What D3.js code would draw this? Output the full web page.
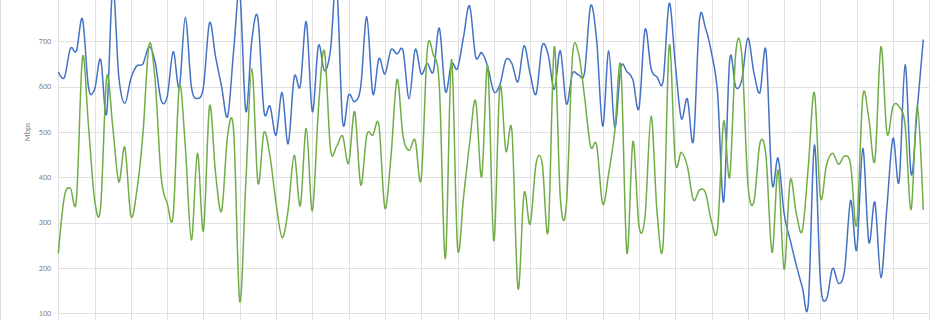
<!DOCTYPE html>
<html>
<head>
<meta charset="utf-8">
<script src="https://cdn.jsdelivr.net/npm/d3@7"></script>
<style>
  body { margin: 0; background: #fff; }
  svg { display: block; }
  .grid line { stroke: #e0e0e0; stroke-width: 1; }
  .axis text { font-family: Calibri, "Liberation Sans", sans-serif; font-size: 8px; fill: #7f7f7f; }
  .line { fill: none; stroke-width: 1.5; stroke-linejoin: round; }
</style>
</head>
<body>
<svg width="950" height="320"></svg>
<script>
// 10-minute samples over one day (144 per series), vertical grid every hour
var slots = 144,
    hourTicks = d3.range(0, 25).map(function(h) { return h * 6; }),
    yTicks = [100, 200, 300, 400, 500, 600, 700];

var blue = [633, 620, 684, 679, 749, 598, 594, 660, 541, 820,
  622, 563, 618, 646, 650, 688, 655, 570, 578, 677,
  598, 753, 600, 574, 600, 741, 666, 600, 534, 681,
  810, 546, 703, 751, 546, 557, 493, 587, 474, 621,
  601, 743, 545, 690, 635, 681, 830, 523, 582, 567,
  600, 754, 584, 662, 628, 681, 672, 679, 573, 682,
  628, 651, 633, 729, 589, 651, 640, 710, 778, 666,
  675, 644, 589, 604, 659, 651, 611, 690, 629, 584,
  690, 670, 594, 679, 562, 629, 626, 631, 778, 703,
  513, 679, 510, 642, 633, 615, 552, 726, 640, 621,
  613, 784, 651, 530, 573, 481, 747, 729, 674, 585,
  346, 659, 599, 615, 707, 631, 587, 679, 388, 442,
  320, 262, 207, 158, 122, 471, 170, 131, 199, 166,
  196, 349, 240, 464, 257, 345, 179, 335, 486, 390,
  648, 407, 549, 704];

var green = [232, 357, 376, 352, 665, 512, 350, 335, 621, 512,
  390, 466, 315, 372, 497, 692, 615, 401, 343, 317,
  600, 468, 262, 453, 282, 557, 409, 326, 493, 499,
  126, 387, 640, 388, 499, 446, 343, 267, 328, 449,
  337, 508, 326, 549, 679, 462, 468, 491, 431, 545,
  383, 493, 493, 515, 332, 446, 616, 490, 459, 482,
  396, 681, 670, 600, 221, 660, 246, 357, 475, 569,
  401, 646, 260, 599, 458, 501, 155, 365, 297, 431,
  431, 282, 688, 354, 339, 666, 674, 578, 468, 471,
  341, 409, 501, 644, 234, 479, 293, 313, 535, 321,
  254, 690, 435, 455, 424, 350, 372, 366, 302, 287,
  523, 401, 674, 670, 387, 346, 475, 446, 234, 416,
  197, 393, 321, 282, 424, 587, 356, 427, 453, 429,
  447, 427, 295, 578, 530, 437, 688, 497, 557, 556,
  515, 329, 560, 328];

var series = [
  {name: "blue", color: "#4472C4", values: blue},
  {name: "green", color: "#70AD47", values: green}
];

var svg = d3.select("svg");

var x = d3.scaleLinear().domain([0, slots]).range([58.3, 929.3]),
    y = d3.scaleLinear().domain([100, 700]).range([313.3, 41.3]);

// chart area left edge
svg.append("line")
    .attr("x1", 0.5).attr("x2", 0.5)
    .attr("y1", 0).attr("y2", 320)
    .attr("stroke", "#d9d9d9");

var grid = svg.append("g").attr("class", "grid");

grid.selectAll(".h")
  .data(yTicks)
  .enter().append("line")
    .attr("class", "h")
    .attr("x1", x(0)).attr("x2", x(slots))
    .attr("y1", function(d) { return Math.round(y(d)) + 0.5; })
    .attr("y2", function(d) { return Math.round(y(d)) + 0.5; });

grid.selectAll(".v")
  .data(hourTicks)
  .enter().append("line")
    .attr("class", "v")
    .attr("x1", function(d) { return Math.round(x(d)) + 0.5; })
    .attr("x2", function(d) { return Math.round(x(d)) + 0.5; })
    .attr("y1", 0).attr("y2", 320);

var axis = svg.append("g").attr("class", "axis");

axis.selectAll(".tick")
  .data(yTicks)
  .enter().append("text")
    .attr("class", "tick")
    .attr("x", 51)
    .attr("y", function(d) { return y(d); })
    .attr("dy", "0.35em")
    .attr("text-anchor", "end")
    .text(function(d) { return d; });

axis.append("text")
    .attr("transform", "translate(30," + y(500) + ") rotate(-90)")
    .attr("text-anchor", "middle")
    .text("Mbps");

var line = d3.line()
    .curve(d3.curveCatmullRom.alpha(0))
    .x(function(d, i) { return x(i); })
    .y(function(d) { return y(d); });

svg.selectAll(".line")
  .data(series)
  .enter().append("path")
    .attr("class", "line")
    .attr("stroke", function(d) { return d.color; })
    .attr("d", function(d) { return line(d.values); });
</script>
</body>
</html>
